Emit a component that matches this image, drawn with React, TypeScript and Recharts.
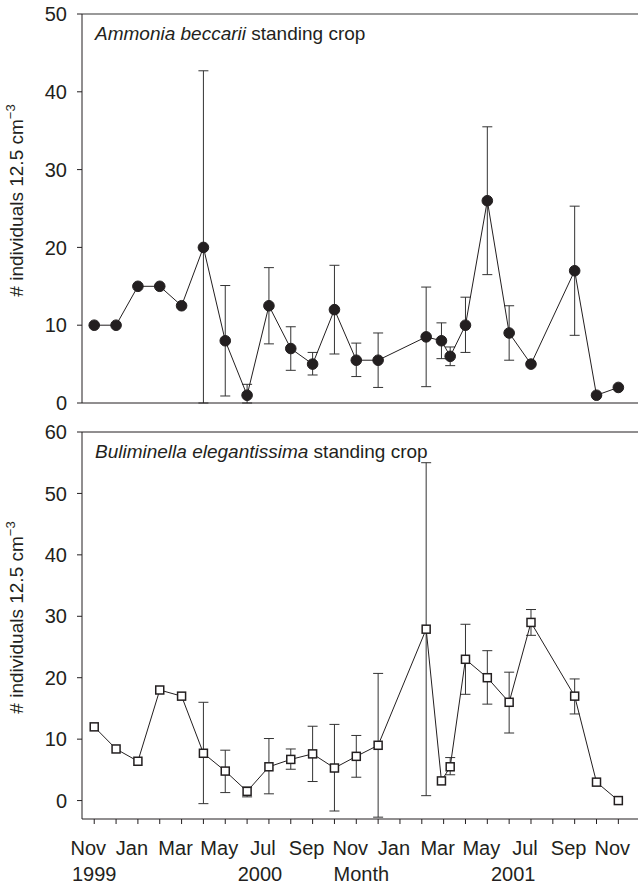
import { LineChart, Line, XAxis, YAxis, ErrorBar, ReferenceLine } from 'recharts';

// sampling dates as months after Nov 1999
const months = [0, 1, 2, 3, 4, 5, 6, 7, 8, 9, 10, 11, 12, 13, 15.2, 15.9, 16.3, 17, 18, 19, 20, 22, 23, 24];

const ammoniaMean = [10, 10, 15, 15, 12.5, 20, 8, 1, 12.5, 7, 5, 12, 5.5, 5.5, 8.5, 8, 6, 10, 26, 9, 5, 17, 1, 2];
const ammoniaHi = [null, null, null, null, null, 42.7, 15.1, 2.4, 17.4, 9.8, 6.5, 17.7, 7.7, 9.0, 14.9, 10.3, 7.2, 13.6, 35.5, 12.5, null, 25.3, null, null];
const ammoniaLo = [null, null, null, null, null, 0, 0.9, 0, 7.6, 4.2, 3.6, 6.3, 3.4, 2.0, 2.1, 5.7, 4.8, 6.5, 16.5, 5.5, null, 8.7, null, null];

const bulimMean = [12, 8.4, 6.4, 18, 17, 7.7, 4.8, 1.5, 5.5, 6.7, 7.6, 5.3, 7.2, 9, 27.9, 3.2, 5.5, 23, 20, 16, 29, 17, 3, 0];
const bulimHi = [null, null, null, null, null, 16.0, 8.2, 2.2, 10.1, 8.4, 12.1, 12.4, 10.6, 20.7, 55.0, null, 7.0, 28.7, 24.4, 20.9, 31.1, 19.8, null, null];
const bulimLo = [null, null, null, null, null, -0.5, 1.3, 0.6, 1.1, 5.1, 3.1, -1.7, 3.8, -2.7, 0.8, null, 4.2, 17.3, 15.7, 11.0, 26.9, 14.1, null, null];

const monthTicks = [0, 1, 2, 3, 4, 5, 6, 7, 8, 9, 10, 11, 12, 13, 14, 15, 16, 17, 18, 19, 20, 21, 22, 23, 24];
const monthLabels = ['Nov', '', 'Jan', '', 'Mar', '', 'May', '', 'Jul', '', 'Sep', '', 'Nov', '', 'Jan', '', 'Mar', '', 'May', '', 'Jul', '', 'Sep', '', 'Nov'];
const yearTicks = [0, 8, 12, 19];
const yearLabels = ['1999', '2000', 'Month', '2001'];
const yearNudge = [0, -9, 5, 4];

const topTicks = [0, 10, 20, 30, 40, 50];
const bottomTicks = [0, 10, 20, 30, 40, 50, 60];

const FONT = "'Liberation Sans', Arial, Helvetica, sans-serif";
const INK = '#231f20';

const build = (mean: number[], lo: (number | null)[], hi: (number | null)[]) =>
  months.map((m, i) => ({
    m,
    v: mean[i],
    err: hi[i] == null || lo[i] == null ? null : [mean[i] - (lo[i] as number), (hi[i] as number) - mean[i]],
  }));

const ammonia = build(ammoniaMean, ammoniaLo, ammoniaHi);
const bulim = build(bulimMean, bulimLo, bulimHi);

const MonthTick = (props: any) => {
  const { x, y, payload } = props;
  const idx = monthTicks.indexOf(payload.value);
  const yi = yearTicks.indexOf(payload.value);
  return (
    <g>
      {monthLabels[idx] ? (
        <text x={x - 6} y={y + 31} textAnchor="middle" fontSize={20} fill={INK} fontFamily={FONT}>{monthLabels[idx]}</text>
      ) : null}
      {yi >= 0 ? (
        <text x={x + yearNudge[yi]} y={y + 57} textAnchor="middle" fontSize={20} fill={INK} fontFamily={FONT}>{yearLabels[yi]}</text>
      ) : null}
    </g>
  );
};

const AxisTitle = (props: any) => {
  const vb = props.viewBox;
  const cy = vb.y + vb.height / 2 - 8;
  const x = 23;
  return (
    <text x={x} y={cy} transform={`rotate(-90 ${x} ${cy})`} textAnchor="middle" fontSize={19} fill={INK} fontFamily={FONT}>
      # individuals 12.5 cm<tspan dy={-8} fontSize={13}>−3</tspan>
    </text>
  );
};

const makeTitle = (species: string) => (props: any) => {
  const vb = props.viewBox;
  return (
    <text x={vb.x + 13} y={vb.y + 25.5} fontSize={19} fill={INK} fontFamily={FONT}>
      <tspan fontStyle="italic">{species}</tspan> standing crop
    </text>
  );
};

const SquareDot = (props: any) => {
  const { cx, cy, index } = props;
  if (cx == null || cy == null) return <g key={`s-${index}`} />;
  return <rect key={`s-${index}`} x={cx - 4} y={cy - 4} width={8} height={8} fill="#fff" stroke={INK} strokeWidth={1.5} />;
};

const tickStyle = { fontSize: 20, fill: INK, fontFamily: FONT };

export default function App() {
  return (
    <div style={{ position: 'relative', width: 638, height: 885, background: '#fff' }}>
      <style>{'body{margin:0}'}</style>
      <div style={{ position: 'absolute', left: 0, top: 0 }}>
        <LineChart width={638} height={420} data={ammonia} margin={{ top: 14, right: 0, bottom: 0, left: 0 }}>
          <XAxis dataKey="m" type="number" domain={[-0.56, 24.9]} ticks={monthTicks} interval={0} allowDataOverflow
            height={17} tickSize={5} tickMargin={0} tick={false} stroke={INK} />
          <YAxis type="number" domain={[0, 50]} ticks={topTicks} interval={0} allowDataOverflow width={82}
            tickSize={5} tickMargin={10} tick={tickStyle} stroke={INK} label={<AxisTitle />} />
          <ReferenceLine y={50} stroke="#777" strokeWidth={1.5} label={makeTitle('Ammonia beccarii')} />
          <Line dataKey="v" stroke={INK} strokeWidth={1} isAnimationActive={false}
            dot={{ r: 5.3, fill: INK, stroke: INK, strokeWidth: 1 }} activeDot={false}>
            <ErrorBar dataKey="err" width={5} stroke="#333" strokeWidth={1} direction="y" isAnimationActive={false} />
          </Line>
        </LineChart>
      </div>
      <div style={{ position: 'absolute', left: 0, top: 420 }}>
        <LineChart width={638} height={465} data={bulim} margin={{ top: 12, right: 0, bottom: 0, left: 0 }}>
          <XAxis dataKey="m" type="number" domain={[-0.56, 24.9]} ticks={monthTicks} interval={0} allowDataOverflow
            height={66} tickSize={5} tickMargin={0} tick={<MonthTick />} stroke={INK} />
          <YAxis type="number" domain={[-3, 60]} ticks={bottomTicks} interval={0} allowDataOverflow width={82}
            tickSize={5} tickMargin={10} tick={tickStyle} stroke={INK} label={<AxisTitle />} />
          <ReferenceLine y={60} stroke={INK} strokeWidth={1} label={makeTitle('Buliminella elegantissima')} />
          <Line dataKey="v" stroke={INK} strokeWidth={1} isAnimationActive={false}
            dot={<SquareDot />} activeDot={false}>
            <ErrorBar dataKey="err" width={5} stroke="#333" strokeWidth={1} direction="y" isAnimationActive={false} />
          </Line>
        </LineChart>
      </div>
    </div>
  );
}
